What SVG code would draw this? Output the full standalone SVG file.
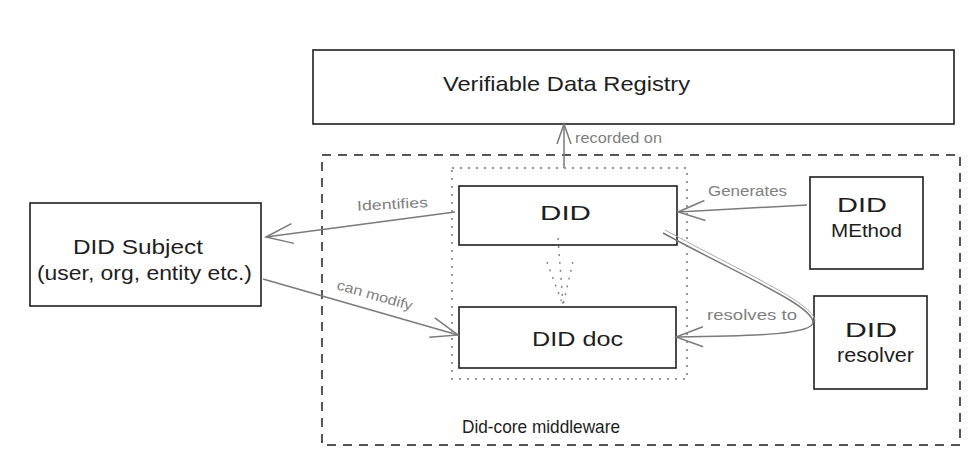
<svg xmlns="http://www.w3.org/2000/svg" width="971" height="457" viewBox="0 0 971 457">
<defs>
<style>
.box{fill:#fff;stroke:#1e1e1e;stroke-width:1.6}
.t{font-family:"Liberation Sans","DejaVu Sans",sans-serif;fill:#1e1e1e}
.lbl{font-family:"Liberation Sans","DejaVu Sans",sans-serif;fill:#808080;font-size:14px}
.conn{fill:none;stroke:#7a7a7a;stroke-width:1.5}
</style>
<marker id="ah" markerUnits="userSpaceOnUse" viewBox="-30 -12 32 24" refX="0" refY="0" markerWidth="32" markerHeight="24" orient="auto">
<path d="M-27,-10 L0,0 L-27,10" fill="none" stroke="#7a7a7a" stroke-width="1.5"/>
</marker>
<marker id="ahs" markerUnits="userSpaceOnUse" viewBox="-24 -10 26 20" refX="0" refY="0" markerWidth="26" markerHeight="20" orient="auto">
<path d="M-20,-7 L0,0 L-20,7" fill="none" stroke="#7a7a7a" stroke-width="1.5"/>
</marker>
</defs>
<rect width="971" height="457" fill="#fff"/>

<g id="middleware">
<rect x="322" y="155" width="638" height="290" fill="none" stroke="#1e1e1e" stroke-width="1.5" stroke-dasharray="9,7"/>
<text class="t" x="462" y="433" font-size="19" textLength="158" lengthAdjust="spacingAndGlyphs">Did-core middleware</text>
</g>

<g id="did-group">
<rect x="452" y="168" width="235" height="211" fill="none" stroke="#777" stroke-width="1.5" stroke-dasharray="2,6"/>
</g>

<g id="registry">
<rect class="box" x="313" y="50" width="641" height="74"/>
<text class="t" x="443" y="91" font-size="21" textLength="247" lengthAdjust="spacingAndGlyphs">Verifiable Data Registry</text>
</g>

<g id="subject">
<rect class="box" x="30" y="203" width="231" height="103"/>
<text class="t" x="73" y="254" font-size="21" textLength="130" lengthAdjust="spacingAndGlyphs">DID Subject</text>
<text class="t" x="37" y="280" font-size="20" textLength="215" lengthAdjust="spacingAndGlyphs">(user, org, entity etc.)</text>
</g>

<g id="did">
<rect class="box" x="459" y="186" width="218" height="59"/>
<text class="t" x="540" y="220" font-size="21" textLength="51" lengthAdjust="spacingAndGlyphs">DID</text>
</g>

<g id="did-doc">
<rect class="box" x="459" y="307" width="217" height="61"/>
<text class="t" x="532" y="346" font-size="21" textLength="91" lengthAdjust="spacingAndGlyphs">DID doc</text>
</g>

<g id="did-method">
<rect class="box" x="810" y="177" width="113" height="92"/>
<text class="t" x="837" y="212" font-size="21" textLength="50" lengthAdjust="spacingAndGlyphs">DID</text>
<text class="t" x="831" y="237" font-size="19" textLength="71" lengthAdjust="spacingAndGlyphs">MEthod</text>
</g>

<g id="did-resolver">
<rect class="box" x="814" y="296" width="113" height="93"/>
<text class="t" x="845" y="337" font-size="21" textLength="52" lengthAdjust="spacingAndGlyphs">DID</text>
<text class="t" x="837" y="362" font-size="20" textLength="77" lengthAdjust="spacingAndGlyphs">resolver</text>
</g>

<g id="connectors">
<path class="conn" d="M564,168 L564,124" marker-end="url(#ahs)"/>
<text class="lbl" x="575" y="143" textLength="87" lengthAdjust="spacingAndGlyphs">recorded on</text>

<path class="conn" d="M455,212 L266,237" marker-end="url(#ah)"/>
<text class="lbl" x="357" y="209" textLength="71" lengthAdjust="spacingAndGlyphs" transform="rotate(-3 392 205)">Identifies</text>

<path class="conn" d="M263,279 L458,335" marker-end="url(#ah)"/>
<text class="lbl" x="336" y="289" textLength="78" lengthAdjust="spacingAndGlyphs" transform="rotate(16 336 289)">can modify</text>

<path class="conn" d="M807,205 L678,212" marker-end="url(#ah)"/>
<text class="lbl" x="708" y="196" textLength="79" lengthAdjust="spacingAndGlyphs">Generates</text>

<path class="conn" d="M663,233 C740,275 812,305 813,322 C814,334 760,336 676,337" marker-end="url(#ah)"/>
<path fill="none" stroke="#aaa" stroke-width="1" d="M665,230 C742,272 814,303 815,321"/>
<text class="lbl" x="707" y="320" font-size="15" textLength="90" lengthAdjust="spacingAndGlyphs">resolves to</text>

<path d="M558,238 L563,305 M547,262 L563,305 L574,257" fill="none" stroke="#888" stroke-width="1.5" stroke-dasharray="2,6"/>
</g>
</svg>
